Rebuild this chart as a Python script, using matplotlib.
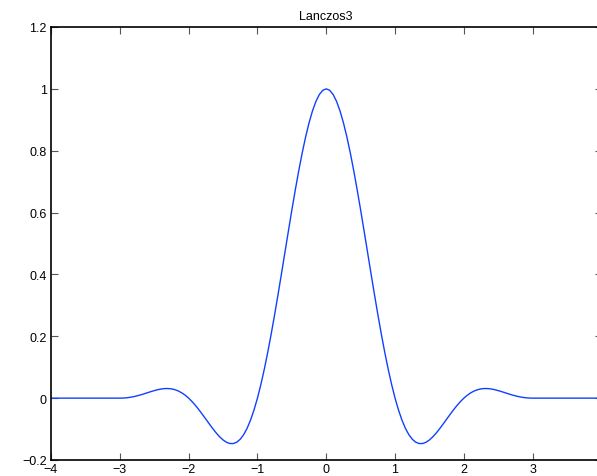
import matplotlib
matplotlib.use("Agg")
from matplotlib import pyplot as plt
import numpy as np

# Lanczos3 kernel, values every 0.05 for x >= 0 (curve is symmetric)
x_half = [0.00, 0.05, 0.10, 0.15, 0.20, 0.25, 0.30, 0.35, 0.40, 0.45,
          0.50, 0.55, 0.60, 0.65, 0.70, 0.75, 0.80, 0.85, 0.90, 0.95,
          1.00, 1.05, 1.10, 1.15, 1.20, 1.25, 1.30, 1.35, 1.40, 1.45,
          1.50, 1.55, 1.60, 1.65, 1.70, 1.75, 1.80, 1.85, 1.90, 1.95,
          2.00, 2.05, 2.10, 2.15, 2.20, 2.25, 2.30, 2.35, 2.40, 2.45,
          2.50, 2.55, 2.60, 2.65, 2.70, 2.75, 2.80, 2.85, 2.90, 2.95,
          3.00, 3.50, 4.00]
y_half = [1.0, 0.9954, 0.9818, 0.9594, 0.9287, 0.8901, 0.8443, 0.7923, 0.7349, 0.6731,
          0.6079, 0.5405, 0.4720, 0.4034, 0.3358, 0.2702, 0.2075, 0.1484, 0.0938, 0.0442,
          0.0, -0.0384, -0.0709, -0.0974, -0.1180, -0.1329, -0.1423, -0.1468, -0.1467, -0.1426,
          -0.1351, -0.1248, -0.1123, -0.0983, -0.0832, -0.0678, -0.0525, -0.0376, -0.0238, -0.0111,
          0.0, 0.0095, 0.0172, 0.0232, 0.0274, 0.0300, 0.0311, 0.0309, 0.0295, 0.0272,
          0.0243, 0.0210, 0.0174, 0.0138, 0.0104, 0.0074, 0.0047, 0.0027, 0.0012, 0.0003,
          0.0, 0.0, 0.0]

x_vals = [-v for v in x_half[:0:-1]] + x_half
y_vals = y_half[:0:-1] + y_half

xticks = [-4, -3, -2, -1, 0, 1, 2, 3]
yticks = [-0.2, 0, 0.2, 0.4, 0.6, 0.8, 1, 1.2]
ytick_labels = ['\u22120.2', '0', '0.2', '0.4', '0.6', '0.8', '1', '1.2']
xtick_labels = ['\u22124', '\u22123', '\u22122', '\u22121', '0', '1', '2', '3']

plt.rcParams['font.family'] = ['Liberation Sans', 'DejaVu Sans']

fig = plt.figure(figsize=(5.97, 4.77), dpi=100)
ax = fig.add_axes([51/597, 1-461/477, 550.5/597, 433/477])

ax.plot(x_vals, y_vals, color='#1040ff', linewidth=1.0)

ax.set_xlim(-4, 4)
ax.set_ylim(-0.2, 1.2)
ax.set_xticks(xticks)
ax.set_xticklabels(xtick_labels)
ax.set_yticks(yticks)
ax.set_yticklabels(ytick_labels)
ax.tick_params(axis='both', direction='in', top=True, right=True, length=5,
               labelsize=9, color='#555555')
ax.tick_params(axis='x', pad=2.5)
ax.tick_params(axis='y', pad=3)
for s in ax.spines.values():
    s.set_linewidth(1.2)
ax.set_title("Lanczos3", fontsize=9, pad=6)

fig.savefig("out.png", dpi=100)
